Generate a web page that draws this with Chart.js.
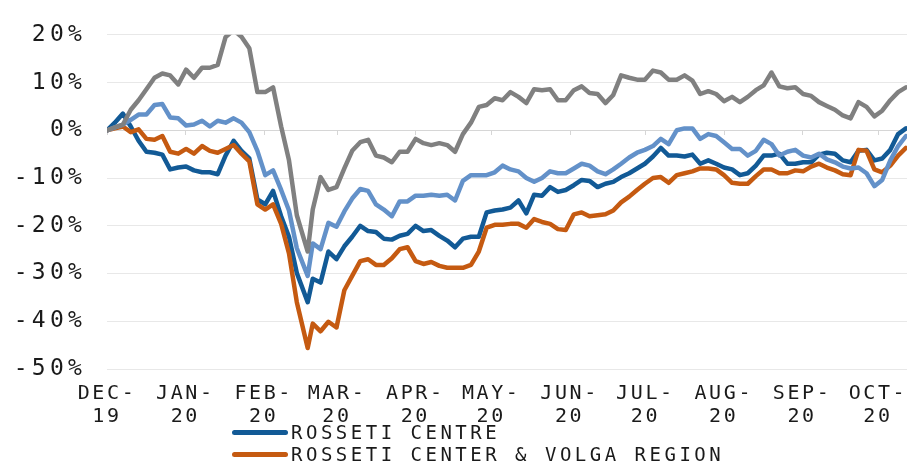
<!DOCTYPE html>
<html>
<head>
<meta charset="utf-8">
<script src="https://cdn.jsdelivr.net/npm/chart.js@4.4.1/dist/chart.umd.min.js"></script>
<style>
    html, body { margin: 0; padding: 0; background: #fff; }
    #wrap { position: relative; width: 916px; height: 464px; overflow: hidden; }
    #chart { display: block; }
    .legend {
        position: absolute; left: 232px; top: 421px;
        font-family: 'DejaVu Sans Mono', monospace; font-size: 19px;
        letter-spacing: 3.5px; color: #1a1a1a;
    }
    .legend div { height: 22px; display: flex; align-items: center; white-space: nowrap; }
    .legend .swatch { display: inline-block; width: 56px; height: 5px; border-radius: 3px; margin-right: 3px; }
</style>
</head>
<body>
<div id="wrap">
    <canvas id="chart" width="916" height="464"></canvas>
    <div class="legend">
        <div><span class="swatch" style="background:#125a96"></span>ROSSETI CENTRE</div>
        <div><span class="swatch" style="background:#c55a11"></span>ROSSETI CENTER &amp; VOLGA REGION</div>
    </div>
</div>
<script>
// days since 1 Dec 2019 for each sample
const sampleDay = [0, 3.1, 6.3, 9.4, 12.5, 15.6, 18.8, 21.9, 25.0, 28.2, 31.3, 34.4, 37.6, 40.7, 43.8, 46.9, 50.1, 53.2, 56.3, 59.5,
    62.6, 65.7, 68.9, 72.0, 75.1, 79.4, 81.4, 84.5, 87.6, 90.8, 93.9, 97.0, 100.2, 103.3, 106.4, 109.5, 112.7, 115.8, 118.9, 122.1,
    125.2, 128.3, 131.5, 134.6, 137.7, 140.8, 144.0, 147.1, 150.2, 153.4, 156.5, 159.6, 162.8, 165.9, 169.0, 172.1, 175.3, 178.4, 181.5, 184.7,
    187.8, 190.9, 194.1, 197.2, 200.3, 203.4, 206.6, 209.7, 212.8, 216.0, 219.1, 222.2, 225.4, 228.5, 231.6, 234.7, 237.9, 241.0, 244.1, 247.3,
    250.4, 253.5, 256.7, 259.8, 262.9, 266.0, 269.2, 272.3, 275.4, 278.6, 281.7, 284.8, 288.0, 291.1, 294.2, 297.3, 300.5, 303.6, 306.7, 309.9,
    313.0, 316.1];

// % change since start
const rossetiCentre = [0, 1.6, 3.5, 0.8, -2.2, -4.5, -4.7, -5.1, -8.2, -7.8, -7.6, -8.4, -8.8, -8.8, -9.2, -5.3, -2.2, -4.3, -5.9, -14.5,
    -15.5, -12.7, -18.0, -22.3, -29.9, -36.0, -31.1, -31.9, -25.4, -27.0, -24.3, -22.3, -20.0, -21.1, -21.3, -22.7, -22.9, -22.1, -21.7, -20.0,
    -21.1, -20.9, -22.1, -23.1, -24.5, -22.7, -22.3, -22.3, -17.2, -16.8, -16.6, -16.2, -14.7, -17.4, -13.5, -13.7, -11.9, -12.9, -12.5, -11.5,
    -10.4, -10.6, -11.9, -11.2, -10.8, -9.8, -9.0, -8.0, -7.0, -5.5, -3.7, -5.3, -5.3, -5.5, -5.1, -7.0, -6.3, -7.0, -7.8, -8.2,
    -9.4, -9.0, -7.4, -5.3, -5.3, -4.9, -7.0, -7.0, -6.7, -6.7, -5.1, -4.7, -4.9, -6.3, -6.7, -4.3, -4.1, -6.3, -5.9, -4.1,
    -0.8, 0.4];

const rossetiVolga = [0, 0.4, 0.8, -0.4, 0.2, -1.8, -2.0, -1.2, -4.5, -4.9, -3.9, -4.9, -3.3, -4.3, -4.7, -3.9, -3.1, -4.9, -6.5, -15.5,
    -16.6, -15.5, -19.6, -25.8, -36.0, -45.6, -40.5, -42.1, -40.1, -41.3, -33.5, -30.5, -27.4, -27.0, -28.2, -28.2, -26.8, -24.9, -24.5, -27.4,
    -28.0, -27.6, -28.4, -28.8, -28.8, -28.8, -28.2, -25.4, -20.4, -19.8, -19.8, -19.6, -19.6, -20.4, -18.6, -19.2, -19.6, -20.7, -20.9, -17.6,
    -17.2, -18.0, -17.8, -17.6, -16.8, -15.1, -13.9, -12.5, -11.2, -10.0, -9.8, -11.0, -9.4, -9.0, -8.6, -8.0, -8.0, -8.2, -9.4, -11.0,
    -11.2, -11.2, -9.6, -8.2, -8.2, -9.0, -9.0, -8.4, -8.6, -7.6, -7.0, -7.8, -8.4, -9.2, -9.4, -4.1, -4.3, -8.2, -8.8, -7.4,
    -5.3, -3.7];

const series3 = [0, 0.6, 1.2, 2.2, 3.3, 3.3, 5.3, 5.5, 2.7, 2.5, 1.0, 1.2, 2.0, 0.8, 2.0, 1.6, 2.5, 1.6, -0.4, -4.3,
    -9.4, -8.4, -12.5, -16.8, -24.7, -30.5, -23.7, -24.9, -19.4, -20.2, -17.0, -14.3, -12.3, -12.7, -15.5, -16.6, -18.0, -14.9, -14.9, -13.7,
    -13.7, -13.5, -13.7, -13.5, -14.7, -10.6, -9.4, -9.4, -9.4, -8.8, -7.4, -8.2, -8.6, -10.0, -10.8, -10.0, -8.6, -9.0, -9.0, -8.0,
    -7.0, -7.4, -8.6, -9.2, -8.2, -7.0, -5.7, -4.7, -4.1, -3.3, -1.8, -2.9, 0, 0.4, 0.4, -1.8, -0.8, -1.2, -2.5, -3.9,
    -3.9, -5.3, -4.3, -2.0, -2.9, -5.3, -4.5, -4.1, -5.3, -5.7, -4.9, -6.1, -6.7, -7.6, -8.0, -7.8, -9.0, -11.7, -10.4, -6.3,
    -3.3, -1.2];

const series4 = [0, 0.6, 1.2, 4.3, 6.3, 8.6, 11.0, 11.9, 11.5, 9.6, 12.7, 11.0, 13.1, 13.1, 13.7, 19.5, 21.0, 19.6, 17.2, 8.0,
    8.0, 9.0, 0.8, -6.3, -17.8, -25.4, -16.6, -9.8, -12.5, -11.9, -8.0, -4.3, -2.5, -2.0, -5.3, -5.7, -6.7, -4.5, -4.5, -1.8,
    -2.7, -3.1, -2.7, -3.1, -4.5, -0.8, 1.6, 4.9, 5.3, 6.7, 6.3, 8.0, 7.0, 5.7, 8.6, 8.4, 8.6, 6.3, 6.3, 8.4,
    9.2, 7.8, 7.6, 5.7, 7.4, 11.5, 11.0, 10.6, 10.6, 12.5, 12.1, 10.6, 10.6, 11.5, 10.4, 7.6, 8.2, 7.6, 6.1, 7.0,
    5.9, 7.0, 8.4, 9.4, 12.1, 9.2, 8.8, 9.0, 7.6, 7.2, 5.9, 5.1, 4.3, 3.1, 2.5, 5.9, 4.9, 2.9, 4.1, 6.3,
    8.0, 9.0];

const monthDays = [0, 31, 62, 91, 122, 152, 183, 213, 244, 275, 305];
const monthLabels = [['DEC-', '19'], ['JAN-', '20'], ['FEB-', '20'], ['MAR-', '20'], ['APR-', '20'], ['MAY-', '20'],
    ['JUN-', '20'], ['JUL-', '20'], ['AUG-', '20'], ['SEP-', '20'], ['OCT-', '20']];

const FONT = "'DejaVu Sans Mono', monospace";

function toPoints(values) {
    return values.map((v, i) => ({ x: sampleDay[i], y: v }));
}

// little tick marks hanging off the 0% line
const zeroTicks = {
    id: 'zeroTicks',
    beforeDatasetsDraw(chart) {
        const { ctx, scales: { x, y } } = chart;
        const y0 = Math.round(y.getPixelForValue(0));
        ctx.save();
        ctx.strokeStyle = '#d6d6d6';
        ctx.lineWidth = 1;
        monthDays.forEach(d => {
            const px = Math.round(x.getPixelForValue(d)) + 0.5;
            ctx.beginPath();
            ctx.moveTo(px, y0);
            ctx.lineTo(px, y0 + 5);
            ctx.stroke();
        });
        ctx.restore();
    }
};

// wide lettering on the axis labels
const spacedLabels = {
    id: 'spacedLabels',
    afterUpdate(chart) {
        [['x', '2.6px'], ['y', '4.2px']].forEach(([id, gap]) => {
            const scale = chart.scales[id];
            if (scale._spaced) return;
            const draw = scale.drawLabels;
            scale.drawLabels = function (area) {
                this.ctx.save();
                this.ctx.letterSpacing = gap;
                draw.call(this, area);
                this.ctx.restore();
            };
            scale._spaced = true;
        });
    }
};

const lineStyle = {
    borderWidth: 4.5,
    pointRadius: 0,
    tension: 0,
    fill: false,
    borderJoinStyle: 'round',
    borderCapStyle: 'round',
};

new Chart(document.getElementById('chart'), {
    type: 'line',
    data: {
        datasets: [
            { ...lineStyle, label: 'ROSSETI CENTRE', data: toPoints(rossetiCentre), borderColor: '#125a96', order: 3 },
            { ...lineStyle, label: 'ROSSETI CENTER & VOLGA REGION', data: toPoints(rossetiVolga), borderColor: '#c55a11', order: 2 },
            { ...lineStyle, label: 'SERIES 3', data: toPoints(series3), borderColor: '#6391c9', order: 1 },
            { ...lineStyle, label: 'SERIES 4', data: toPoints(series4), borderColor: '#808080', order: 0 },
        ]
    },
    options: {
        responsive: false,
        animation: false,
        layout: { padding: { top: 26, right: 0, bottom: 0, left: 0 } },
        plugins: {
            legend: { display: false },
            tooltip: { enabled: false }
        },
        scales: {
            x: {
                type: 'linear',
                min: 0,
                max: 316.5,
                afterBuildTicks: s => { s.ticks = monthDays.map(v => ({ value: v })); },
                afterFit: s => { s.height = 95; },
                grid: { display: false, drawTicks: false },
                border: { display: false },
                ticks: {
                    autoSkip: false,
                    maxRotation: 0,
                    padding: 14,
                    color: '#1a1a1a',
                    font: { family: FONT, size: 20, lineHeight: 1.12 },
                    callback: (v, i) => monthLabels[i]
                }
            },
            y: {
                min: -50,
                max: 20,
                afterFit: s => { s.width = 107; },
                grid: {
                    color: c => c.tick && c.tick.value === 0 ? '#d6d6d6' : '#e8e8e8',
                    drawTicks: false,
                    lineWidth: 1
                },
                border: { display: false },
                ticks: {
                    stepSize: 10,
                    padding: 21,
                    color: '#1a1a1a',
                    font: { family: FONT, size: 23 },
                    callback: v => v + '%'
                }
            }
        }
    },
    plugins: [zeroTicks, spacedLabels]
});
</script>
</body>
</html>
